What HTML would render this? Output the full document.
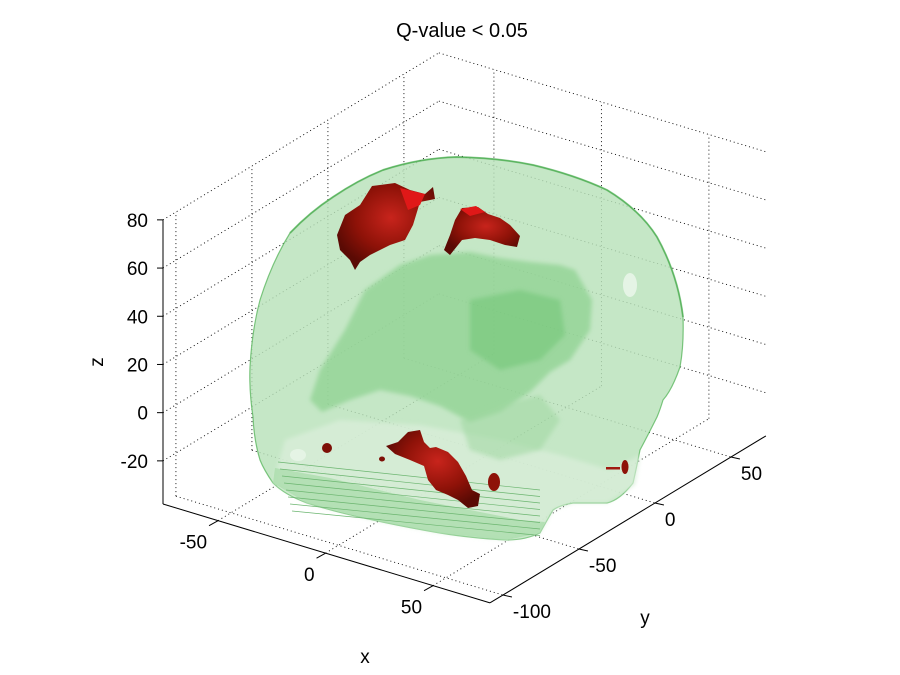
<!DOCTYPE html>
<html><head><meta charset="utf-8"><style>
html,body{margin:0;padding:0;background:#fff;}
svg{display:block;font-family:"Liberation Sans",Arial,sans-serif;}
</style></head><body>
<svg id="chart" width="900" height="675" viewBox="0 0 900 675" xmlns="http://www.w3.org/2000/svg">
<rect width="900" height="675" fill="#fff"/>
<text x="462" y="37" font-size="20" text-anchor="middle">Q-value &lt; 0.05</text>
<g id="grid"></g>
<g id="brain">
  <defs>
    <filter id="soft"><feGaussianBlur stdDeviation="2"/></filter>
    <radialGradient id="redg" cx="0.55" cy="0.4" r="0.6"><stop offset="0" stop-color="#c8241c"/><stop offset="0.6" stop-color="#8e1208"/><stop offset="1" stop-color="#5a0a04"/></radialGradient>
  </defs>
  <path d="M457,157 Q500,158 533,165 Q575,175 607,190 Q640,210 657,237 Q678,275 683,317 Q684,345 680,367 Q672,390 663,400 Q660,410 657,417 Q648,435 640,450 Q636,470 633,483 Q620,500 607,503 L573,503 Q560,505 553,510 Q546,522 540,533 Q525,540 507,540 Q470,538 440,533 Q405,527 373,520 Q335,512 307,503 Q285,495 273,483 Q264,470 260,460 Q254,440 253,417 Q249,390 250,367 Q252,330 260,300 Q272,262 290,233 Q310,212 333,197 Q358,180 383,170 Q420,158 457,157 Z" fill="#b8e2b9" fill-opacity="0.82" stroke="#5cb860" stroke-width="1.2" stroke-opacity="0.8"/>
  <path d="M285,440 L340,420 L420,425 L500,440 L560,455 L610,470 L640,455 L635,485 L607,503 L573,503 L553,510 L540,533 L507,540 L440,533 L373,520 L307,503 L273,483 Z" fill="#d9eeda" fill-opacity="0.8" filter="url(#soft)"/>
  <path d="M275,468 L330,478 L420,500 L520,520 L545,522 L540,533 L507,540 L440,533 L373,520 L307,503 L273,483 Z" fill="#a8dcaa" fill-opacity="0.75"/>
  <g id="stripes" stroke="#6bb56f" stroke-width="0.7" fill="none"></g>
  <path d="M310,400 L320,370 L345,330 L365,290 L400,265 L430,255 L470,252 L500,258 L530,262 L560,265 L575,270 L592,300 L590,330 L570,360 L550,372 L530,392 L500,412 L470,422 L440,406 L410,396 L380,390 L350,400 L322,412 Z" fill="#8fd292" fill-opacity="0.75" filter="url(#soft)"/>
  <path d="M470,300 L520,290 L560,300 L565,335 L540,360 L500,370 L470,350 Z" fill="#6cc471" fill-opacity="0.5" filter="url(#soft)"/>
  <path d="M460,420 L500,405 L540,395 L560,420 L540,450 L500,460 L470,450 Z" fill="#9fd7a1" fill-opacity="0.55" filter="url(#soft)"/>
  <ellipse cx="630" cy="285" rx="7" ry="12" fill="#e5f4e5"/>
  <ellipse cx="298" cy="455" rx="8" ry="6" fill="#e5f4e5"/>
  <path d="M290,233 Q310,212 333,197 Q358,180 383,170 Q420,158 457,157 Q500,158 533,165 Q575,175 607,190 Q640,210 657,237 Q678,275 683,317" fill="none" stroke="#3ea644" stroke-width="2" stroke-opacity="0.5"/>
</g>
<g id="blobs">
  <path d="M372,186 L395,183 L410,190 L425,194 L433,187 L435,199 L420,202 L413,225 L405,240 L390,245 L380,250 L370,255 L360,262 L355,270 L350,260 L340,250 L337,235 L345,215 L360,205 Z" fill="url(#redg)"/>
  <path d="M400,188 L425,194 L420,205 L408,210 Z" fill="#e01818"/>
  <path d="M462,208 L478,207 L488,214 L500,218 L510,225 L520,236 L517,247 L505,245 L490,240 L475,238 L462,240 L450,255 L444,250 L450,235 L455,220 Z" fill="url(#redg)"/>
  <path d="M460,209 L476,206 L485,212 L470,216 Z" fill="#e01818"/>
  <path d="M408,432 L420,430 L424,442 L430,448 L436,447 L448,452 L458,462 L466,476 L472,490 L480,494 L478,506 L468,508 L458,500 L448,495 L436,490 L428,480 L424,466 L410,460 L395,454 L386,446 L398,442 Z" fill="url(#redg)"/>
  <ellipse cx="327" cy="448" rx="5" ry="5" fill="#7d0f06"/>
  <ellipse cx="382" cy="459" rx="3" ry="2.5" fill="#7d0f06"/>
  <ellipse cx="494" cy="482" rx="6" ry="9" fill="#8e1208"/>
  <ellipse cx="625" cy="467" rx="3.5" ry="7" fill="#8e1208"/>
  <rect x="606" y="467" width="14" height="2.5" fill="#a01a10"/>
</g>
<g id="axes"></g>
<text x="365" y="663" font-size="19" text-anchor="middle">x</text>
<text x="645" y="624" font-size="19" text-anchor="middle">y</text>
<text x="103" y="362" font-size="19" text-anchor="middle" transform="rotate(-90 103 362)">z</text>
</svg>
<script>
var xTicks = [-50, 0, 50];
var yTicks = [-100, -50, 0, 50];
var zTicks = [-20, 0, 20, 40, 60, 80];
var xRange = [-75.6, 76.5];
var yRange = [-108.5, 73];
var zRange = [-37.9, 80];

var NS = "http://www.w3.org/2000/svg";
function P(x, y, z) {
  var dx = x - xRange[0], dy = y - yRange[0], dz = z - zRange[0];
  return [163 + dx * 2.15 + dy * 1.52, 504 + dx * 0.65 - dy * 0.92 - dz * 2.41];
}
function line(g, a, b, dotted, name) {
  var l = document.createElementNS(NS, "line");
  l.setAttribute("x1", a[0]); l.setAttribute("y1", a[1]);
  l.setAttribute("x2", b[0]); l.setAttribute("y2", b[1]);
  l.setAttribute("stroke", "#000");
  l.setAttribute("stroke-width", dotted ? "0.9" : "1");
  if (dotted) l.setAttribute("stroke-dasharray", "1,3");
  
  
  g.appendChild(l);
}
function text(g, p, s, anchor, name) {
  var t = document.createElementNS(NS, "text");
  t.setAttribute("x", p[0]); t.setAttribute("y", p[1]);
  t.setAttribute("font-size", "19");
  t.setAttribute("text-anchor", anchor);
  t.textContent = s;
  
  
  g.appendChild(t);
}
var grid = document.getElementById("grid");
var xa = xRange[0], xb = xRange[1], ya = yRange[0], yb = yRange[1], za = zRange[0], zb = zRange[1];
yTicks.forEach(function (y) { line(grid, P(xa, y, za), P(xa, y, zb), true, "grid-line-y"); });
zTicks.forEach(function (z) { line(grid, P(xa, ya, z), P(xa, yb, z), true, "grid-line-z"); });
xTicks.forEach(function (x) { line(grid, P(x, yb, za), P(x, yb, zb), true, "grid-line-x"); });
zTicks.forEach(function (z) { line(grid, P(xa, yb, z), P(xb, yb, z), true, "grid-line-z"); });
xTicks.forEach(function (x) { line(grid, P(x, ya, za), P(x, yb, za), true, "grid-line-x"); });
yTicks.forEach(function (y) { line(grid, P(xa, y, za), P(xb, y, za), true, "grid-line-y"); });

var axes = document.getElementById("axes");
line(axes, P(xa, ya, za), P(xa, ya, zb), false, "z-axis-line");
line(axes, P(xa, ya, za), P(xb, ya, za), false, "x-axis-line");
line(axes, P(xb, ya, za), P(xb, yb, za), false, "y-axis-line");
zTicks.forEach(function (z) {
  var p = P(xa, ya, z);
  line(axes, [p[0] - 6, p[1]], p, false, "z-tick");
  text(axes, [p[0] - 15, p[1] + 7], String(z), "end", "z-tick-label");
});
xTicks.forEach(function (x) {
  var p = P(x, ya, za);
  line(axes, [p[0] - 9, p[1] + 5], p, false, "x-tick");
  text(axes, [p[0] - 11, p[1] + 28], String(x), "end", "x-tick-label");
});
yTicks.forEach(function (y) {
  var p = P(xb, y, za);
  line(axes, [p[0] + 9, p[1] + 2], p, false, "y-tick");
  text(axes, [p[0] + 10, p[1] + 23], String(y), "start", "y-tick-label");
});

var st = document.getElementById("stripes");
for (var i = 0; i < 8; i++) {
  var l = document.createElementNS(NS, "line");
  l.setAttribute("x1", 278 + i * 2); l.setAttribute("y1", 462 + i * 7);
  l.setAttribute("x2", 540); l.setAttribute("y2", 490 + i * 6.5);
  
  
  st.appendChild(l);
}
</script>
</body></html>
